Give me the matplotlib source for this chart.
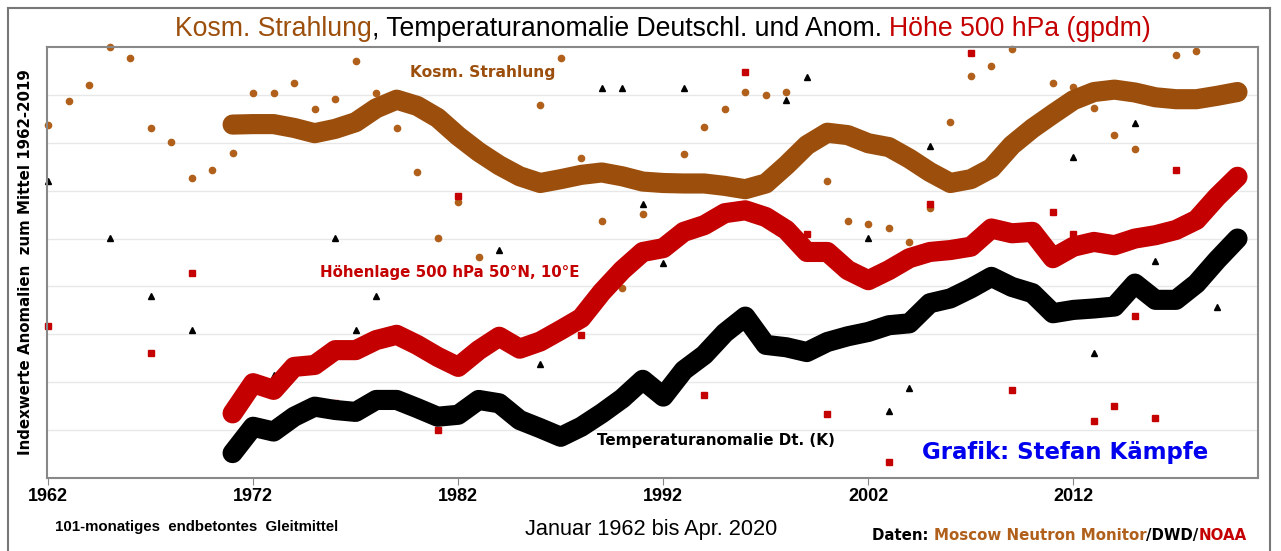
import numpy as np
import matplotlib
matplotlib.use("Agg")
import matplotlib.pyplot as plt
from matplotlib.transforms import IdentityTransform
from matplotlib.lines import Line2D

plt.rcParams['font.family'] = ['Liberation Sans', 'DejaVu Sans']
HEAVY = ['DejaVu Sans']

# colours
BROWN = '#9c4f0c'
BROWN_DOT = '#b0601a'
RED = '#c40000'
BLACK = '#000000'

# annual values (only the ones that fall inside the visible range)
cosmic_years = [1962, 1963, 1964, 1965, 1966, 1967, 1968, 1969, 1970, 1971, 1972, 1973, 1974,
                1975, 1976, 1977, 1978, 1979, 1980, 1981, 1982, 1983, 1986, 1987, 1988, 1989,
                1990, 1991, 1993, 1994, 1995, 1996, 1997, 1998, 2000, 2001, 2002, 2003, 2004,
                2005, 2006, 2007, 2008, 2009, 2011, 2012, 2013, 2014, 2015, 2017, 2018]
cosmic_pts = [7.37, 7.87, 8.20, 8.99, 8.76, 7.31, 7.01, 6.27, 6.43, 6.78, 8.04, 8.03, 8.24,
              7.70, 7.92, 8.71, 8.04, 7.31, 6.39, 5.02, 5.76, 4.62, 7.78, 8.78, 6.68, 5.37,
              3.97, 5.51, 6.76, 7.32, 7.70, 8.05, 8.00, 8.07, 6.21, 5.37, 5.30, 5.23, 4.92,
              5.64, 7.44, 8.39, 8.61, 8.95, 8.24, 8.17, 7.72, 7.16, 6.86, 8.83, 8.91]

temp_years = [1962, 1965, 1967, 1969, 1973, 1976, 1977, 1978, 1984, 1986, 1989, 1990, 1991,
              1992, 1993, 1998, 1999, 2002, 2003, 2004, 2005, 2012, 2013, 2015, 2016, 2019]
temp_pts = [6.21, 5.02, 3.81, 3.10, 2.15, 5.02, 3.09, 3.81, 4.77, 2.39, 8.14, 8.14, 5.73,
            4.50, 8.14, 7.89, 8.38, 5.02, 1.40, 1.87, 6.93, 6.70, 2.60, 7.42, 4.53, 3.58]

geo_years = [1962, 1967, 1969, 1976, 1981, 1982, 1988, 1994, 1996, 1999, 2000, 2003, 2005,
             2007, 2009, 2011, 2012, 2013, 2014, 2015, 2016, 2017]
geo_pts = [3.17, 2.62, 4.29, 1.57, 1.00, 5.89, 2.99, 1.73, 8.47, 5.09, 1.34, 0.34, 5.73,
           8.88, 1.84, 5.56, 5.09, 1.18, 1.50, 3.39, 1.26, 6.43]

# 101-month smoothed curves, 1971..2020
smooth_years = list(range(1971, 2021))
cosmic_smooth = [7.38, 7.39, 7.39, 7.31, 7.20, 7.29, 7.43, 7.72, 7.90, 7.77, 7.52, 7.14, 6.81,
                 6.53, 6.30, 6.16, 6.24, 6.33, 6.38, 6.30, 6.19, 6.16, 6.15, 6.15, 6.10, 6.03,
                 6.15, 6.53, 6.95, 7.21, 7.16, 6.99, 6.91, 6.67, 6.39, 6.16, 6.24, 6.47, 6.95,
                 7.30, 7.60, 7.89, 8.06, 8.11, 8.05, 7.95, 7.91, 7.91, 7.98, 8.06]
geo_smooth = [1.35, 1.98, 1.84, 2.32, 2.36, 2.67, 2.67, 2.88, 2.99, 2.78, 2.53, 2.32, 2.67,
              2.95, 2.70, 2.85, 3.09, 3.34, 3.88, 4.34, 4.72, 4.80, 5.14, 5.28, 5.53, 5.59,
              5.45, 5.18, 4.72, 4.72, 4.34, 4.13, 4.34, 4.59, 4.72, 4.76, 4.83, 5.21, 5.11,
              5.14, 4.59, 4.83, 4.93, 4.86, 5.00, 5.07, 5.18, 5.39, 5.87, 6.29]
temp_smooth = [0.52, 1.07, 0.97, 1.28, 1.49, 1.42, 1.38, 1.63, 1.63, 1.46, 1.28, 1.32, 1.63,
               1.56, 1.21, 1.04, 0.86, 1.07, 1.35, 1.66, 2.05, 1.70, 2.25, 2.57, 3.03, 3.37,
               2.78, 2.73, 2.63, 2.84, 2.96, 3.05, 3.19, 3.23, 3.65, 3.75, 3.96, 4.20, 3.99,
               3.86, 3.44, 3.51, 3.54, 3.58, 4.06, 3.72, 3.72, 4.06, 4.55, 5.00]

xticks = [1962, 1972, 1982, 1992, 2002, 2012]

W, H = 1281, 551
fig = plt.figure(figsize=(W / 100, H / 100), dpi=100)
ax = fig.add_axes([47 / W, 1 - 478 / H, (1258 - 47) / W, (478 - 47) / H])
px = IdentityTransform()

ax.set_xlim(1961.95, 2021.0)
ax.set_ylim(0, 9)
ax.set_yticks(range(1, 9))
ax.yaxis.grid(True, color='#e8e8e8', lw=1)
ax.set_axisbelow(True)
ax.tick_params(axis='y', left=False, labelleft=False)
ax.set_xticks(xticks)
ax.set_xticklabels([str(t) for t in xticks], fontweight='bold', fontsize=13)
ax.tick_params(axis='x', direction='out', length=5, color='#888888', pad=2)
for s in ax.spines.values():
    s.set_color('#888888')
    s.set_linewidth(1.5)

# annual points
ax.plot(cosmic_years, cosmic_pts, 'o', color=BROWN_DOT, ms=4.5, clip_on=False, zorder=2)
ax.plot(temp_years, temp_pts, '^', color=BLACK, ms=3.8, clip_on=False, zorder=2)
ax.plot(geo_years, geo_pts, 's', color=RED, ms=4, clip_on=False, zorder=2)

# smoothed curves
kw = dict(lw=14.5, solid_capstyle='round', solid_joinstyle='round', zorder=3)
ax.plot(smooth_years, cosmic_smooth, color=BROWN, **kw)
ax.plot(smooth_years, geo_smooth, color=RED, **kw)
ax.plot(smooth_years, temp_smooth, color=BLACK, **kw)

# in-plot labels
ax.text(410, H - 73, 'Kosm. Strahlung', transform=px, color=BROWN, family=HEAVY,
        fontweight='bold', fontsize=11.2, va='center')
ax.text(320, H - 272, 'Höhenlage 500 hPa 50°N, 10°E', transform=px, family=HEAVY,
        color=RED, fontweight='bold', fontsize=10.8, va='center')
ax.text(597, H - 441, 'Temperaturanomalie Dt. (K)', transform=px, family=HEAVY,
        color=BLACK, fontweight='bold', fontsize=10.9, va='center')
ax.text(922, H - 453, 'Grafik: Stefan Kämpfe', transform=px, family=HEAVY,
        color='#0000ee', fontweight='bold', fontsize=16.5, va='center')

fig.text(26, H - 262, 'Indexwerte Anomalien  zum Mittel 1962-2019', transform=px, family=HEAVY,
         rotation=90, ha='center', va='center', fontweight='bold', fontsize=10.8)
fig.text(55, H - 527, '101-monatiges  endbetontes  Gleitmittel', transform=px,
         fontweight='bold', fontsize=10.8, va='center')
fig.text(525, H - 530, 'Januar 1962 bis Apr. 2020', transform=px,
         fontsize=15.7, va='center')

renderer = fig.canvas.get_renderer()


def multi_text(x, y, parts, center=False, **kw):
    texts = []
    for s, c in parts:
        texts.append(fig.text(0, y, s, color=c, transform=px, va='baseline', **kw))
    widths = [t.get_window_extent(renderer).width for t in texts]
    if center:
        x = x - sum(widths) / 2
    for t, w in zip(texts, widths):
        t.set_x(x)
        x += w


multi_text(663, H - 36, [('Kosm. Strahlung', BROWN), (', Temperaturanomalie Deutschl. und Anom. ', BLACK),
                         ('Höhe 500 hPa (gpdm)', RED)], center=True, fontsize=19.2)
multi_text(872, H - 540, [('Daten: ', BLACK), ('Moscow Neutron Monitor', BROWN_DOT), ('/DWD/', BLACK),
                          ('NOAA', RED)], fontsize=10.8, fontweight='bold', family=HEAVY)

# outer frame
for xs, ys in [([8, 1270], [H - 8, H - 8]), ([8, 8], [H - 8, 0]), ([1270, 1270], [H - 8, 0])]:
    fig.add_artist(Line2D(xs, ys, transform=px, color='#777777', lw=1.5))

fig.savefig('out.png', dpi=100)
